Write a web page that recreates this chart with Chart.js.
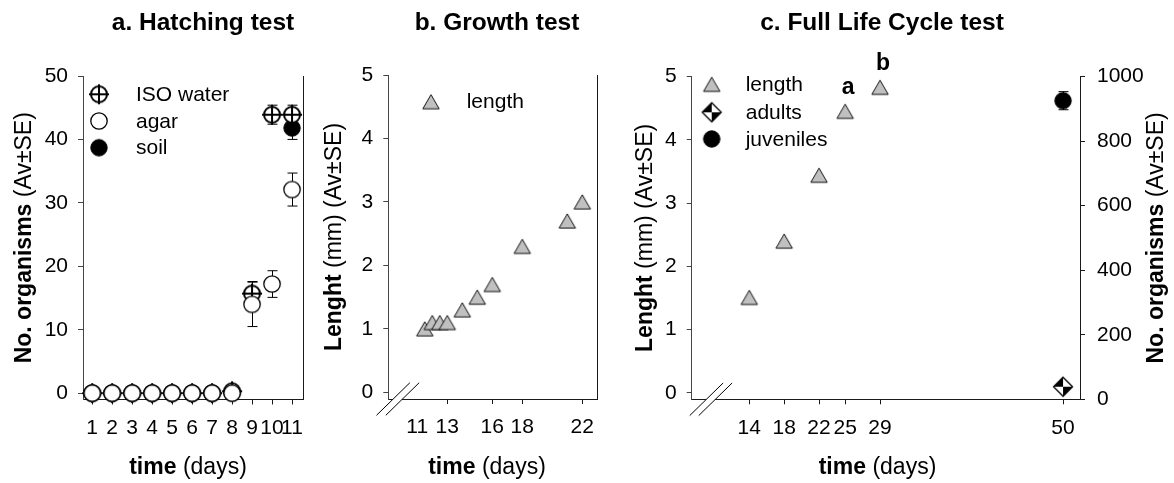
<!DOCTYPE html>
<html>
<head>
<meta charset="utf-8">
<script src="https://cdn.jsdelivr.net/npm/chart.js@4.4.1/dist/chart.umd.min.js"></script>
<style>
  html, body { margin: 0; padding: 0; background: #fff; }
  #wrap { position: relative; width: 1174px; height: 483px; overflow: hidden; background: #fff; }
  #wrap canvas { position: absolute; top: 0; }
</style>
</head>
<body>
<div id="wrap">
  <canvas id="hatching" width="320" height="483" style="left:0px"></canvas>
  <canvas id="growth" width="300" height="483" style="left:320px"></canvas>
  <canvas id="cycle" width="554" height="483" style="left:620px"></canvas>
</div>
<script>
// a. Hatching test
const hatchDays = [1, 2, 3, 4, 5, 6, 7, 8, 9, 10, 11];
const isoWater = [0, 0, 0, 0, 0, 0, 0, 0.3, 15.7, 43.9, 43.9];
const isoWaterSE = [0, 0, 0, 0, 0, 0, 0, 0, 1.9, 1.5, 1.5];
const agar = [0, 0, 0, 0, 0, 0, 0, 0, 14.0, 17.2, 32.1];
const agarSE = [0, 0, 0, 0, 0, 0, 0, 0, 3.5, 2.1, 2.6];
const soil = [0, 0, 0, 0, 0, 0, 0, 0, null, null, 41.8];
const soilSE = [0, 0, 0, 0, 0, 0, 0, 0, 0, 0, 1.8];
const hatchXTicks = [1, 2, 3, 4, 5, 6, 7, 8, 9, 10, 11];
const hatchYTicks = [0, 10, 20, 30, 40, 50];

// b. Growth test
const growthDays = [11.5, 12, 12.5, 13, 14, 15, 16, 18, 21, 22];
const growthLength = [1.0, 1.1, 1.1, 1.1, 1.3, 1.5, 1.7, 2.3, 2.7, 3.0];
const growthXTicks = [11, 13, 16, 18, 22];
const growthNoMark = [11];
const growthYTicks = [0, 1, 2, 3, 4, 5];

// c. Full Life Cycle test
const cycleDays = [14, 18, 22, 25, 29];
const cycleLength = [1.51, 2.40, 3.44, 4.45, 4.83];
const cycleLetters = ['', '', '', 'a', 'b'];
const countDays = [50];
const adults = [39];
const juveniles = [925];
const juvenilesSE = [28];
const cycleXTicks = [14, 18, 22, 25, 29, 50];
const cycleYTicks = [0, 1, 2, 3, 4, 5];
const countYTicks = [0, 200, 400, 600, 800, 1000];

const FAMILY = "'Liberation Sans', Arial, Helvetica, sans-serif";
const INK = '#1a1a1a';
const AXIS_LEFT = '#444';

function pts(xs, ys) {
  return xs.map((x, i) => ({ x: x, y: ys[i] }));
}

// marker sprites, drawn centred on the point
function sprite(size, draw) {
  const c = document.createElement('canvas');
  c.width = size; c.height = size;
  draw(c.getContext('2d'), size / 2);
  return c;
}
const isoMarker = sprite(24, (g, m) => {
  g.lineWidth = 2; g.strokeStyle = '#000'; g.fillStyle = '#fff';
  g.beginPath(); g.arc(m, m, 8, 0, Math.PI * 2); g.fill(); g.stroke();
  g.beginPath();
  g.moveTo(m - 10, m); g.lineTo(m + 10, m);
  g.moveTo(m, m - 10); g.lineTo(m, m + 10);
  g.stroke();
});
const openCircle = sprite(22, (g, m) => {
  g.lineWidth = 1.3; g.strokeStyle = '#000'; g.fillStyle = '#fff';
  g.beginPath(); g.arc(m, m, 8.2, 0, Math.PI * 2); g.fill(); g.stroke();
});
const filledCircle = sprite(22, (g, m) => {
  g.lineWidth = 1; g.strokeStyle = '#000'; g.fillStyle = '#000';
  g.beginPath(); g.arc(m, m, 8.2, 0, Math.PI * 2); g.fill(); g.stroke();
});
const triangle = sprite(22, (g, m) => {
  g.lineWidth = 1; g.strokeStyle = '#111'; g.fillStyle = '#c0c0c0';
  g.beginPath();
  g.moveTo(m, m - 7.1); g.lineTo(m + 8.2, m + 7.1); g.lineTo(m - 8.2, m + 7.1);
  g.closePath(); g.fill(); g.stroke();
});
const halfDiamond = sprite(24, (g, m) => {
  const r = 9.5;
  g.fillStyle = '#fff';
  g.beginPath(); g.moveTo(m, m - r); g.lineTo(m + r, m); g.lineTo(m, m + r); g.lineTo(m - r, m); g.closePath(); g.fill();
  g.fillStyle = '#000';
  g.beginPath(); g.moveTo(m, m - r); g.lineTo(m, m); g.lineTo(m - r, m); g.closePath(); g.fill();
  g.beginPath(); g.moveTo(m, m); g.lineTo(m + r, m); g.lineTo(m, m + r); g.closePath(); g.fill();
  g.lineWidth = 1.3; g.strokeStyle = '#000';
  g.beginPath(); g.moveTo(m, m - r); g.lineTo(m + r, m); g.lineTo(m, m + r); g.lineTo(m - r, m); g.closePath(); g.stroke();
});

// vertical SE bars, under the markers
const errorBars = {
  id: 'errorBars',
  beforeDatasetsDraw(chart) {
    const ctx = chart.ctx;
    ctx.save();
    ctx.strokeStyle = '#000';
    ctx.lineWidth = 1;
    chart.data.datasets.forEach((ds, i) => {
      if (!ds.errors) return;
      const meta = chart.getDatasetMeta(i);
      const xs = chart.scales[meta.xAxisID], ys = chart.scales[meta.yAxisID];
      ds.data.forEach((p, j) => {
        const e = ds.errors[j];
        if (!e || p.y == null) return;
        const x = Math.round(xs.getPixelForValue(p.x)) + 0.5;
        const t = ys.getPixelForValue(p.y + e), b = ys.getPixelForValue(p.y - e);
        ctx.beginPath();
        ctx.moveTo(x, t); ctx.lineTo(x, b);
        ctx.moveTo(x - 5, t); ctx.lineTo(x + 5, t);
        ctx.moveTo(x - 5, b); ctx.lineTo(x + 5, b);
        ctx.stroke();
      });
    });
    ctx.restore();
  },
  afterDatasetsDraw(chart) {
    const ctx = chart.ctx;
    chart.data.datasets.forEach((ds, i) => {
      if (!ds.letters) return;
      const meta = chart.getDatasetMeta(i);
      const xs = chart.scales[meta.xAxisID], ys = chart.scales[meta.yAxisID];
      ctx.save();
      ctx.font = 'bold 23px ' + FAMILY;
      ctx.fillStyle = '#000';
      ctx.textAlign = 'center';
      ctx.textBaseline = 'middle';
      ds.data.forEach((p, j) => {
        if (!ds.letters[j]) return;
        ctx.fillText(ds.letters[j], xs.getPixelForValue(p.x) + 3, ys.getPixelForValue(p.y) - 24);
      });
      ctx.restore();
    });
  }
};

function mixedText(ctx, parts, size, x, y, rotate, baseline) {
  ctx.save();
  ctx.translate(x, y);
  if (rotate) ctx.rotate(-Math.PI / 2);
  ctx.fillStyle = '#000';
  ctx.textAlign = 'left';
  ctx.textBaseline = baseline;
  const widths = parts.map(([t, w]) => {
    ctx.font = w + ' ' + size + 'px ' + FAMILY;
    return ctx.measureText(t).width;
  });
  let cx = -widths.reduce((s, w) => s + w, 0) / 2;
  parts.forEach(([t, w], i) => {
    ctx.font = w + ' ' + size + 'px ' + FAMILY;
    ctx.fillText(t, cx, 0);
    cx += widths[i];
  });
  ctx.restore();
}

// panel title, axis titles, legend, right frame and the x-axis break
const panelDecor = {
  id: 'panelDecor',
  afterDraw(chart, args, o) {
    const ctx = chart.ctx, a = chart.chartArea;
    ctx.save();
    if (o.rightFrame) {
      ctx.strokeStyle = INK; ctx.lineWidth = 1;
      ctx.beginPath();
      ctx.moveTo(Math.round(a.right) + 0.5, a.top);
      ctx.lineTo(Math.round(a.right) + 0.5, a.bottom);
      ctx.stroke();
    }
    if (o.axisBreak) {
      const y = a.bottom, dx = 16.7, dy = 16.3, k = dx / dy;
      const [c1, c2] = o.axisBreak.map(v => a.left + v);
      ctx.fillStyle = '#fff';
      ctx.beginPath();
      ctx.moveTo(c1 + 2.5 * k, y - 2.5); ctx.lineTo(c2 + 2.5 * k, y - 2.5);
      ctx.lineTo(c2 - 2.5 * k, y + 2.5); ctx.lineTo(c1 - 2.5 * k, y + 2.5);
      ctx.closePath(); ctx.fill();
      ctx.strokeStyle = '#000'; ctx.lineWidth = 1;
      ctx.beginPath();
      [c1, c2].forEach(c => { ctx.moveTo(c - dx, y + dy); ctx.lineTo(c + dx, y - dy); });
      ctx.stroke();
    }
    ctx.fillStyle = '#000';
    ctx.font = 'bold 24.5px ' + FAMILY;
    ctx.textAlign = 'center';
    ctx.textBaseline = 'alphabetic';
    ctx.fillText(o.title, o.titleX, 30);
    mixedText(ctx, [['time', 'bold'], [' (days)', 'normal']], 23, o.xTitleX, 474, false, 'alphabetic');
    const cy = (a.top + a.bottom) / 2;
    o.yTitles.forEach(t => mixedText(ctx, t.parts, 23, t.x, cy, true, 'middle'));
    ctx.font = '21px ' + FAMILY;
    ctx.textAlign = 'left';
    ctx.textBaseline = 'middle';
    o.legend.forEach(item => {
      ctx.drawImage(item.marker, item.x - item.marker.width / 2, item.y - item.marker.height / 2);
      ctx.fillText(item.text, o.legendTextX, item.y + 1);
    });
    ctx.restore();
  }
};

const tickFont = { family: FAMILY, size: 21 };

function xAxis(min, max, ticks, height, noMark) {
  return {
    type: 'linear', min: min, max: max,
    afterBuildTicks: s => { s.ticks = ticks.map(v => ({ value: v })); },
    afterFit: s => { s.height = height; },
    ticks: { autoSkip: false, maxRotation: 0, padding: 11, font: tickFont, color: '#000', callback: v => String(v) },
    grid: {
      drawOnChartArea: false, tickLength: 5, color: INK,
      tickColor: c => (noMark && c.tick && noMark.includes(c.tick.value)) ? 'rgba(0,0,0,0)' : INK
    },
    border: { display: true, color: INK, width: 1 }
  };
}

function yAxis(min, max, ticks, width, position, color) {
  return {
    type: 'linear', min: min, max: max, position: position,
    afterBuildTicks: s => { s.ticks = ticks.map(v => ({ value: v })); },
    afterFit: s => { s.width = width; },
    ticks: { padding: position === 'right' ? 12 : 10, font: tickFont, color: '#000', callback: v => String(v) },
    grid: { drawOnChartArea: false, tickLength: 5, color: color },
    border: { display: true, color: color, width: 1 }
  };
}

function baseOptions(padding) {
  return {
    responsive: false,
    animation: false,
    events: [],
    layout: { padding: padding },
    plugins: { legend: { display: false }, tooltip: { enabled: false } }
  };
}

function series(label, xs, ys, marker, extra) {
  return Object.assign({
    label: label,
    data: pts(xs, ys),
    pointStyle: marker,
    pointRadius: 9,
    showLine: false,
    clip: false
  }, extra || {});
}

// a. Hatching test
const optA = baseOptions({ top: 76, right: 17, left: 0, bottom: 0 });
optA.scales = {
  x: xAxis(0.54, 11.55, hatchXTicks, 83.5),
  y: yAxis(-1, 50, hatchYTicks, 83, 'left', AXIS_LEFT)
};
optA.plugins.panelDecor = {
  title: 'a. Hatching test', titleX: 203, xTitleX: 188,
  yTitles: [{ x: 25, parts: [['No. organisms', 'bold'], [' (Av\u00B1SE)', 'normal']] }],
  rightFrame: true,
  legendTextX: 136,
  legend: [
    { marker: isoMarker, text: 'ISO water', x: 99, y: 94.3 },
    { marker: openCircle, text: 'agar', x: 99, y: 121 },
    { marker: filledCircle, text: 'soil', x: 99, y: 147.7 }
  ]
};
new Chart(document.getElementById('hatching'), {
  type: 'scatter',
  data: {
    datasets: [
      series('agar', hatchDays, agar, openCircle, { errors: agarSE }),
      series('ISO water', hatchDays, isoWater, isoMarker, { errors: isoWaterSE }),
      series('soil', hatchDays, soil, filledCircle, { errors: soilSE })
    ]
  },
  options: optA,
  plugins: [errorBars, panelDecor]
});

// b. Growth test
const optB = baseOptions({ top: 75, right: 22.7, left: 0, bottom: 0 });
optB.scales = {
  x: xAxis(9.07, 23, growthXTicks, 84, growthNoMark),
  y: yAxis(-0.105, 5, growthYTicks, 68.3, 'left', AXIS_LEFT)
};
optB.plugins.panelDecor = {
  title: 'b. Growth test', titleX: 177, xTitleX: 167,
  yTitles: [{ x: 15, parts: [['Lenght', 'bold'], [' (mm) (Av\u00B1SE)', 'normal']] }],
  rightFrame: true,
  axisBreak: [4.9, 14.2],
  legendTextX: 146.7,
  legend: [{ marker: triangle, text: 'length', x: 111, y: 101.7 }]
};
new Chart(document.getElementById('growth'), {
  type: 'scatter',
  data: { datasets: [series('length', growthDays, growthLength, triangle)] },
  options: optB,
  plugins: [errorBars, panelDecor]
});

// c. Full Life Cycle test
const optC = baseOptions({ top: 76.5, right: 0, left: 0, bottom: 0 });
optC.scales = {
  x: xAxis(7.39, 51.95, cycleXTicks, 83.7),
  y: yAxis(-0.1, 5, cycleYTicks, 71.7, 'left', AXIS_LEFT),
  y1: yAxis(0, 1000, countYTicks, 94, 'right', INK)
};
optC.plugins.panelDecor = {
  title: 'c. Full Life Cycle test', titleX: 262, xTitleX: 257.5,
  yTitles: [
    { x: 26, parts: [['Lenght', 'bold'], [' (mm) (Av\u00B1SE)', 'normal']] },
    { x: 536.5, parts: [['No. organisms', 'bold'], [' (Av\u00B1SE)', 'normal']] }
  ],
  rightFrame: false,
  axisBreak: [14.7, 23.7],
  legendTextX: 125.7,
  legend: [
    { marker: triangle, text: 'length', x: 91.7, y: 84.3 },
    { marker: halfDiamond, text: 'adults', x: 91.7, y: 112.3 },
    { marker: filledCircle, text: 'juveniles', x: 91.7, y: 139 }
  ]
};
new Chart(document.getElementById('cycle'), {
  type: 'scatter',
  data: {
    datasets: [
      series('length', cycleDays, cycleLength, triangle, { yAxisID: 'y', letters: cycleLetters }),
      series('adults', countDays, adults, halfDiamond, { yAxisID: 'y1' }),
      series('juveniles', countDays, juveniles, filledCircle, { yAxisID: 'y1', errors: juvenilesSE })
    ]
  },
  options: optC,
  plugins: [errorBars, panelDecor]
});
</script>
</body>
</html>
